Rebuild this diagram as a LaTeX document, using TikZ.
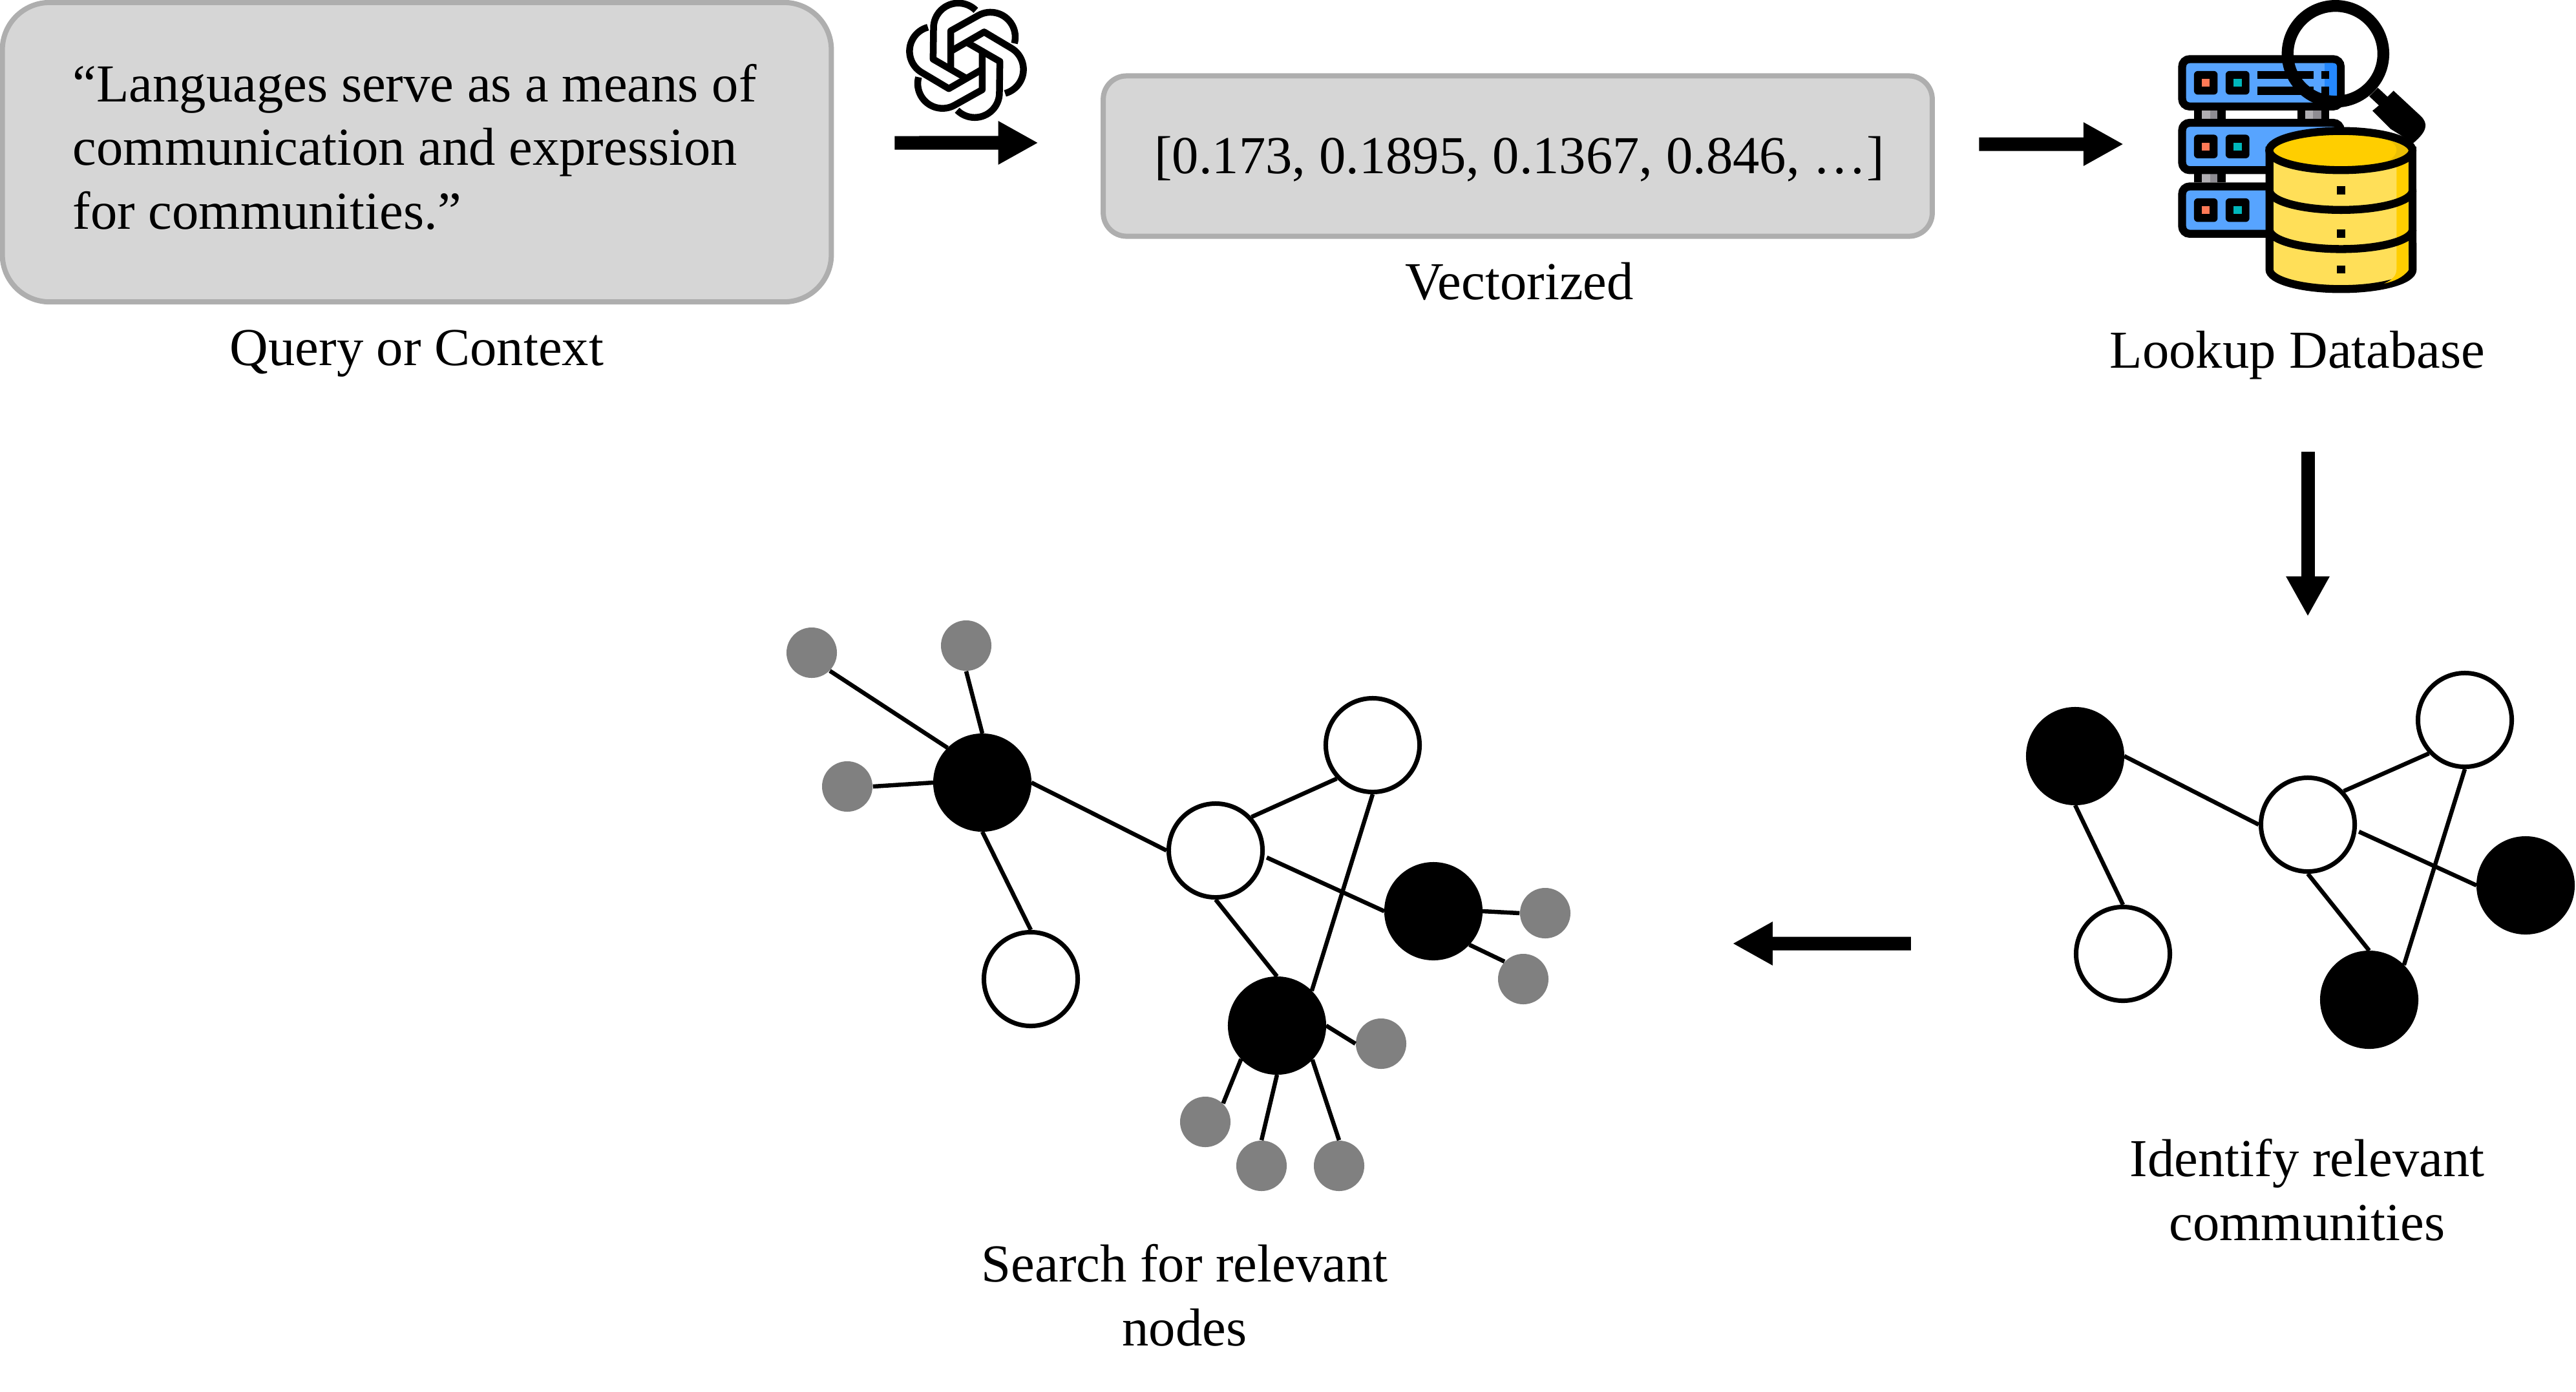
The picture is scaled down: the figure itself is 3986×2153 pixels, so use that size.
\documentclass[tikz,border=0pt]{standalone}
\usepackage{fontspec}
\setmainfont{Liberation Serif}
\usetikzlibrary{arrows.meta}
\definecolor{boxfill}{RGB}{214, 214, 214}
\definecolor{boxline}{RGB}{174, 174, 174}
\definecolor{leaf}{RGB}{128, 128, 128}
\definecolor{rack}{RGB}{87, 164, 255}
\definecolor{rackdark}{RGB}{36, 136, 255}
\definecolor{strut}{RGB}{177, 175, 179}
\definecolor{strutdark}{RGB}{142, 140, 146}
\definecolor{ledA}{RGB}{255, 121, 86}
\definecolor{ledB}{RGB}{0, 183, 187}
\definecolor{drum}{RGB}{255, 223, 88}
\definecolor{drumdark}{RGB}{255, 206, 0}
\definecolor{drumrim}{RGB}{235, 191, 4}
\tikzset{
  querybox/.style={draw=boxline,fill=boxfill,line width=0.08cm,rounded corners=0.73cm},
  caption/.style={font=\fontsize{23.5}{28}\selectfont,align=center,inner sep=0pt,anchor=base},
  bigarrow/.style={line width=0.21cm,-{Triangle[length=0.62cm,width=0.63cm]}},
  blacknode/.style={circle,fill=black,draw=black,line width=0.07cm,minimum size=1.45cm,inner sep=0pt},
  whitenode/.style={circle,fill=white,draw=black,line width=0.07cm,minimum size=1.45cm,inner sep=0pt},
  leafnode/.style={circle,fill=leaf,minimum size=0.78cm,inner sep=0pt},
  edge/.style={black,line width=0.065cm},
  logostrand/.style={line width=0.105cm,line join=round},
  iconline/.style={line width=0.123cm},
}
\begin{document}
\begin{tikzpicture}[x=0.01cm,y=-0.01cm]
\useasboundingbox (0,0) rectangle (3986,2153);
% boxes
\node[querybox,minimum width=12.82cm,minimum height=4.63cm,inner sep=0pt] (query) at (645,235.5) {};
\node[querybox,rounded corners=0.36cm,minimum width=12.82cm,minimum height=2.48cm,inner sep=0pt] (vector) at (2348.5,241.5) {};
\node[caption,anchor=base west,align=left] (querytext) at (112,354) {“Languages serve as a means of\\communication and expression\\for communities.”};
\node[caption] (querylabel) at (645,565) {Query or Context};
\node[caption] (vectortext) at (2351,268) {[0.173, 0.1895, 0.1367, 0.846, …]};
\node[caption] (vectorlabel) at (2351,463) {Vectorized};
\node[caption] (dblabel) at (3555,569) {Lookup Database};
\node[caption] (idlabel) at (3570,1919) {Identify relevant\\communities};
\node[caption] (searchlabel) at (1833,2082) {Search for relevant\\nodes};
% logo
\foreach \a in {0,60,...,300}{
  \begin{scope}[shift={(1495.5,93.3)},rotate=\a,x=0.00333cm,y=0.00333cm]
    \draw[logostrand] (-73,-40) -- (-73,137) -- (54,208) arc[start angle=120,delta angle=-135,radius=0.383cm];
  \end{scope}
}
% database icon
\coordinate (dbicon) at (3555,223);
\begin{scope}[shift={(3300,0)},x=0.00333cm,y=-0.00333cm]
  \foreach \y in {0,296}{
    \fill[black] (285,{513+\y}) rectangle (432,{552+\y});
    \fill[strut] (322,{513+\y}) rectangle (359,{552+\y});
    \fill[strutdark] (359,{513+\y}) rectangle (395,{552+\y});
  }
  \fill[black] (765,513) rectangle (912,552);
  \fill[strut] (802,513) rectangle (839,552);
  \fill[strutdark] (839,513) rectangle (876,552);
  \foreach \y in {0,296,592}{
    \draw[iconline,fill=rack,rounded corners=0.115cm] (230,{275+\y}) rectangle (967,{495+\y});
    \fill[black,rounded corners=0.06cm] (285,{330+\y}) rectangle (395,{440+\y});
    \fill[ledA] (322,{367+\y}) rectangle (358,{403+\y});
    \fill[black,rounded corners=0.06cm] (432,{330+\y}) rectangle (543,{440+\y});
    \fill[ledB] (469,{367+\y}) rectangle (507,{403+\y});
  }
  \fill[rackdark] (893,293) -- (935,293) arc[start angle=90,end angle=0,radius=0.05cm] -- (950,477) -- (893,477) -- cycle;
  \foreach \y in {330,404}{
    \fill[black] (580,\y) rectangle (840,{\y+37});
    \fill[black] (876,\y) rectangle (913,{\y+37});
  }
  % lens
  \draw[line width=0.183cm] (943,250) circle[radius=0.74cm];
  \fill[black] (1140,408) -- (1185,450) -- (1213,422) -- (1340,540) .. controls (1375,575) and (1370,610) .. (1305,665) -- (1200,600) -- (1115,515) -- (1145,490) -- (1100,448) -- cycle;
  % drum
  \draw[iconline,fill=drum] (636,700) -- (636,1253) arc[start angle=180,end angle=360,x radius=1.107cm,y radius=0.303cm] -- (1300,700) -- cycle;
  \fill[drumdark] (1227,745) -- (1282,745) -- (1282,1255) .. controls (1260,1290) and (1210,1310) .. (1170,1318) .. controls (1210,1300) and (1227,1280) .. (1227,1250) -- cycle;
  \fill[drumdark] (968,700) ellipse[x radius=1.107cm,y radius=0.303cm];
  \fill[drumrim] (1130,636) .. controls (1200,650) and (1227,670) .. (1227,697) .. controls (1227,720) and (1205,740) .. (1180,752) .. controls (1240,740) and (1290,720) .. (1290,700) .. controls (1290,675) and (1210,650) .. (1130,636);
  \draw[iconline] (968,700) ellipse[x radius=1.107cm,y radius=0.303cm];
  \foreach \y in {885,1067}{
    \draw[iconline] (636,\y) arc[start angle=180,end angle=360,x radius=1.107cm,y radius=0.303cm];
  }
  \foreach \y in {866,1068,1235}{
    \fill[black] (950,\y) rectangle (987,{\y+37});
  }
\end{scope}
% left graph
\node[blacknode] (lb1) at (1520,1211) {};
\node[whitenode] (lw1) at (1881,1316) {};
\node[whitenode] (lw2) at (2124,1153) {};
\node[blacknode] (lb2) at (2218,1410) {};
\node[blacknode] (lb3) at (1976,1587) {};
\node[whitenode] (lw3) at (1595,1515) {};
\node[leafnode] (g1) at (1256,1010) {};
\node[leafnode] (g2) at (1495,999) {};
\node[leafnode] (g3) at (1311,1217) {};
\node[leafnode] (g4) at (2391,1413) {};
\node[leafnode] (g5) at (2357,1515) {};
\node[leafnode] (g6) at (2137,1615) {};
\node[leafnode] (g7) at (1865,1736) {};
\node[leafnode] (g8) at (1952,1804) {};
\node[leafnode] (g9) at (2072,1804) {};
\draw[edge] (lb1.east) -- (lw1.west);
\draw[edge] (lb1.south) -- (lw3.north);
\draw[edge] (lw1.43) -- (lw2.223);
\draw[edge] (lw1.south) -- (lb3.north);
\draw[edge,shorten <=0.04cm] (lw1.-7) -- (lb2.west);
\draw[edge] (lw2.south) -- (lb3.45);
\draw[edge] (g1.-45) -- (lb1.135);
\draw[edge] (g2.south) -- (lb1.north);
\draw[edge] (g3.east) -- (lb1.west);
\draw[edge] (g4.west) -- (lb2.east);
\draw[edge] (g5.137) -- (lb2.-43);
\draw[edge] (g6.west) -- (lb3.east);
\draw[edge] (g7.46) -- (lb3.223);
\draw[edge] (g8.north) -- (lb3.south);
\draw[edge] (g9.north) -- (lb3.-44);
% right graph
\node[blacknode] (rb1) at (3211,1170) {};
\node[whitenode] (rw1) at (3571,1276) {};
\node[whitenode] (rw2) at (3814,1114) {};
\node[blacknode] (rb2) at (3908,1370) {};
\node[blacknode] (rb3) at (3666,1547) {};
\node[whitenode] (rw3) at (3285,1476) {};
\draw[edge] (rb1.east) -- (rw1.west);
\draw[edge] (rb1.south) -- (rw3.north);
\draw[edge] (rw1.43) -- (rw2.223);
\draw[edge] (rw1.south) -- (rb3.north);
\draw[edge,shorten <=0.04cm] (rw1.-7) -- (rb2.west);
\draw[edge] (rw2.south) -- (rb3.45);
% arrows
\draw[bigarrow,shorten <=0.94cm,shorten >=0.965cm] ([yshift=0.145cm]query.east) -- ([yshift=0.205cm]vector.west);
\draw[bigarrow,shorten <=0.685cm,shorten >=2.69cm] ([yshift=0.185cm]vector.east) -- (dbicon);
\draw[bigarrow,shorten <=1.12cm,shorten >=2.46cm] (rw1.north |- dblabel.south) -- (rw1.north);
\draw[bigarrow,shorten <=2.52cm,shorten >=2.5cm] ([yshift=0.16cm]rw3.west) -- ([yshift=-0.47cm]g4.east);
\end{tikzpicture}
\end{document}
